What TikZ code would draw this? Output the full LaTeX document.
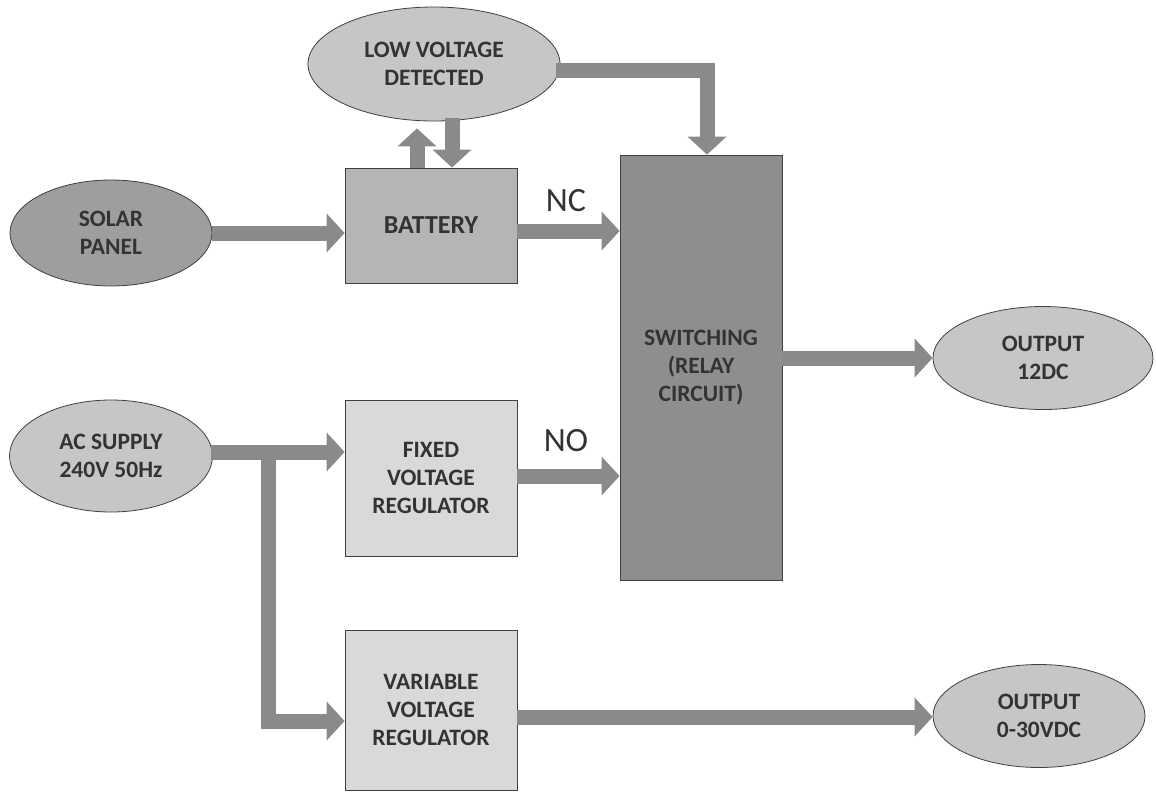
\documentclass[tikz,border=0pt]{standalone}
\usepackage{fontspec}
\setmainfont{Carlito}
\usetikzlibrary{arrows.meta,calc,shapes.geometric}
\definecolor{arrowgray}{HTML}{8A8A8A}
\definecolor{swgray}{HTML}{8E8E8E}
\definecolor{batgray}{HTML}{B5B5B5}
\definecolor{reggray}{HTML}{D9D9D9}
\definecolor{solargray}{HTML}{9E9E9E}
\definecolor{ellgray}{HTML}{C6C6C6}
\definecolor{txtgray}{HTML}{333333}
\tikzset{
  lbl/.style={font=\fontsize{23.5}{28}\selectfont\bfseries, text=txtgray, align=center},
  oval/.style={ellipse, draw=black!75, line width=0.8pt, fill=ellgray, inner sep=0pt, lbl},
  blk/.style={rectangle, draw=black!75, line width=0.8pt, inner sep=0pt, lbl},
  flow/.style={draw=arrowgray, line width=15pt, line join=miter,
    -{Triangle[width=38pt,length=18pt]}},
  contact/.style={font=\fontsize{34}{36}\selectfont, text=txtgray}
}
\begin{document}
\begin{tikzpicture}[x=1pt,y=-1pt]
\useasboundingbox (0,0) rectangle (1156,796);
% nodes
\node[oval, minimum width=252pt, minimum height=114pt] (lv) at (434,64) {LOW VOLTAGE\\DETECTED};
\node[oval, fill=solargray, minimum width=202pt, minimum height=106pt] (solar) at (111,233) {SOLAR\\PANEL};
\node[oval, minimum width=203pt, minimum height=112pt] (ac) at (111,456) {AC SUPPLY\\240V 50Hz};
\node[oval, minimum width=220pt, minimum height=103pt] (out12) at (1043,358) {OUTPUT\\12DC};
\node[oval, minimum width=212pt, minimum height=103pt] (out30) at (1039,716) {OUTPUT\\0-30VDC};
\node[blk, fill=batgray, minimum width=172pt, minimum height=115pt, font=\fontsize{26}{30}\selectfont\bfseries] (bat) at (431,225.5) {BATTERY};
\node[blk, fill=swgray, minimum width=162pt, minimum height=425pt] (sw) at (701,367.5) {SWITCHING\\(RELAY\\CIRCUIT)};
\node[blk, fill=reggray, minimum width=172pt, minimum height=156pt] (fix) at (431,478) {FIXED\\VOLTAGE\\REGULATOR};
\node[blk, fill=reggray, minimum width=172pt, minimum height=160pt] (var) at (431,710) {VARIABLE\\VOLTAGE\\REGULATOR};
% connectors
\draw[flow] (solar.east |- 0,233) -- (bat.west |- 0,233);
\draw[flow] (bat.east |- 0,231) -- (sw.west |- 0,231);
\draw[flow] (fix.east |- 0,476) -- (sw.west |- 0,476);
\draw[flow] (sw.east |- 0,358) -- (out12.west);
\draw[flow] (var.east |- 0,717) -- (out30.west |- 0,717);
\draw[flow] ($(lv.east)+(-4,6)$) -| (sw.north -| 707,0);
\draw[flow] ($(bat.north)+(-14,0)$) -- ($(lv.south)+(-17,7)$);
\draw[flow] ($(lv.south)+(18,-3)$) -- ($(bat.north)+(21,0)$);
\draw[flow] ($(ac.east)+(-2,-4)$) -- (fix.west |- 0,452);
\coordinate (br) at (268,445);
\draw[flow] (br) |- (var.west |- 0,721);
% labels
\node[contact] (nc) at (566,201) {NC};
\node[contact] (no) at (566,441) {NO};
\end{tikzpicture}
\end{document}
